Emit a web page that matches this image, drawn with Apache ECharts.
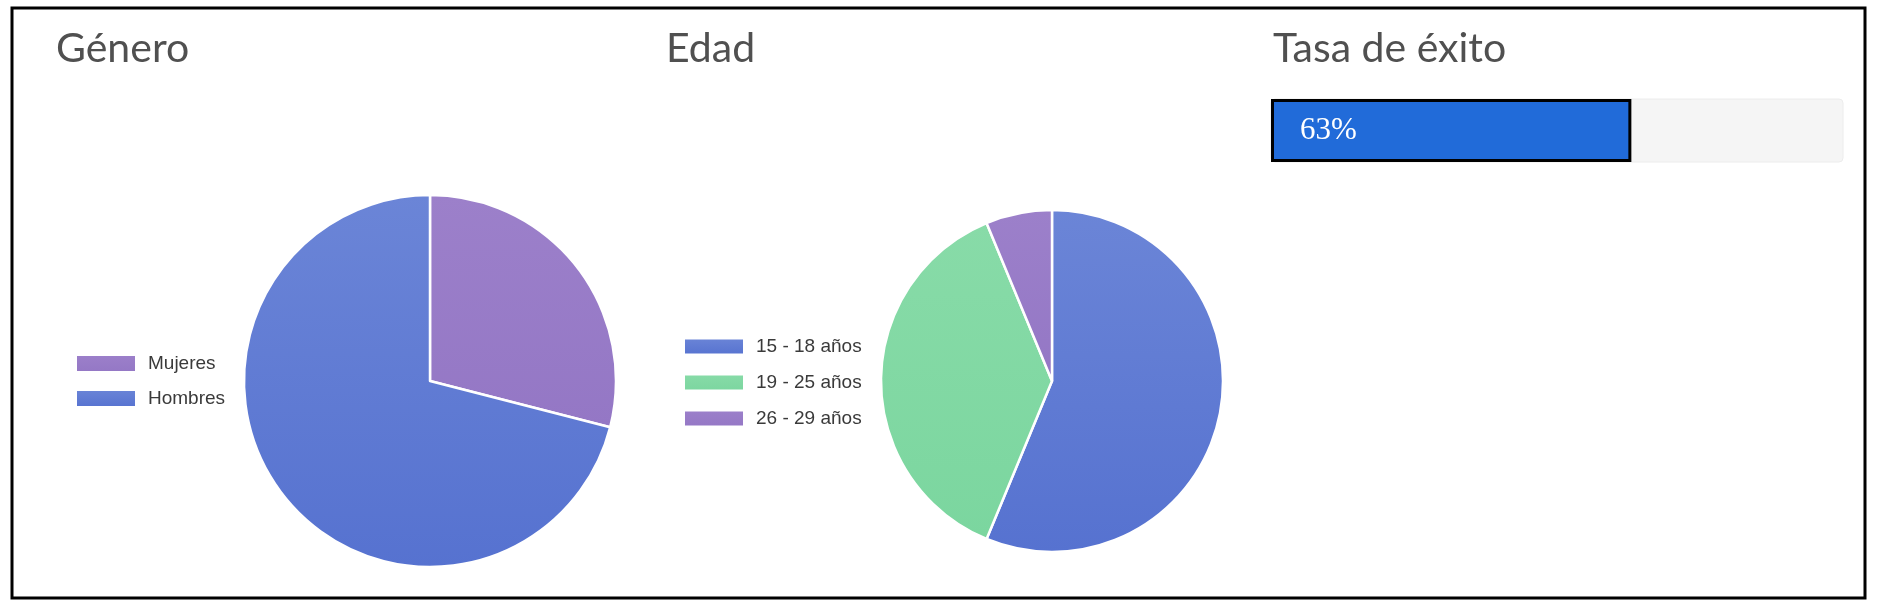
<!DOCTYPE html>
<html>
<head>
<meta charset="utf-8">
<script src="https://cdn.jsdelivr.net/npm/echarts@6/dist/echarts.min.js"></script>
<style>
html,body{margin:0;padding:0;background:#fff;}
#chart{width:1878px;height:604px;}
</style>
</head>
<body>
<div id="chart"></div>
<script>
// ---- data ----
const panelTitles = ['Género', 'Edad', 'Tasa de éxito'];
const genderCategories = ['Mujeres', 'Hombres'];
const genderValues = [29, 71];
const ageCategories = ['15 - 18 años', '19 - 25 años', '26 - 29 años'];
const ageValues = [9, 6, 1];
const successCategory = ['Tasa de éxito'];
const successValues = [63];

// ---- styles ----
function grad(top, bottom) {
  return new echarts.graphic.LinearGradient(0, 0, 0, 1, [
    {offset: 0, color: top}, {offset: 1, color: bottom}
  ]);
}
const BLUE = grad('#6b85d7', '#5672d0');
const PURPLE = grad('#9c80ca', '#9477c5');
const GREEN = grad('#88dba8', '#7bd69f');
const genderColors = [PURPLE, BLUE];
const ageColors = [BLUE, GREEN, PURPLE];

const chart = echarts.init(document.getElementById('chart'), null, {renderer: 'canvas'});

const titleStyle = {fontFamily: 'Lato', fontSize: 41, fontWeight: 'normal', color: '#505050'};
const legendText = {fontFamily: 'Liberation Sans, Arial, sans-serif', fontSize: 19, color: '#3a3a3a', padding: [0, 0, 0, 7]};

chart.setOption({
  animation: false,
  title: [
    {text: panelTitles[0], left: 56, top: 28, padding: 0, textStyle: titleStyle},
    {text: panelTitles[1], left: 666, top: 28, padding: 0, textStyle: titleStyle},
    {text: panelTitles[2], left: 1273, top: 28, padding: 0, textStyle: titleStyle}
  ],
  legend: [
    {
      data: genderCategories, orient: 'vertical', left: 75, top: 354, padding: 0,
      icon: 'rect', itemWidth: 60, itemHeight: 17, itemGap: 16,
      textStyle: legendText, selectedMode: false
    },
    {
      data: ageCategories, orient: 'vertical', left: 683, top: 337, padding: 0,
      icon: 'rect', itemWidth: 60, itemHeight: 16, itemGap: 17,
      textStyle: legendText, selectedMode: false
    }
  ],
  grid: {left: 1271, top: 98, width: 572, height: 65},
  xAxis: {type: 'value', min: 0, max: 100, show: false},
  yAxis: {type: 'category', data: successCategory, show: false},
  series: [
    {
      type: 'pie', name: 'Género', center: [430, 381], radius: 186,
      startAngle: 90, clockwise: true, label: {show: false}, labelLine: {show: false},
      itemStyle: {borderColor: '#fff', borderWidth: 2.5},
      emphasis: {disabled: true},
      data: genderCategories.map((c, i) => ({name: c, value: genderValues[i], itemStyle: {color: genderColors[i]}}))
    },
    {
      type: 'pie', name: 'Edad', center: [1052, 381], radius: 171,
      startAngle: 90, clockwise: true, label: {show: false}, labelLine: {show: false},
      itemStyle: {borderColor: '#fff', borderWidth: 2.5},
      emphasis: {disabled: true},
      data: ageCategories.map((c, i) => ({name: c, value: ageValues[i], itemStyle: {color: ageColors[i]}}))
    },
    {
      type: 'bar', data: successValues, barWidth: 63,
      showBackground: true,
      backgroundStyle: {color: '#f5f5f5', borderColor: '#ececec', borderWidth: 1, borderRadius: 4},
      itemStyle: {color: '#216bd9', borderColor: '#000', borderWidth: 3},
      label: {
        show: true, position: 'insideLeft', distance: 29,
        formatter: p => p.value + '%',
        fontFamily: 'Liberation Serif, Times New Roman, serif', fontSize: 31, color: '#fff'
      }
    }
  ],
  graphic: [
    {type: 'rect', shape: {x: 12, y: 8, width: 1853, height: 590}, style: {fill: null, stroke: '#000', lineWidth: 3}, silent: true}
  ]
});
</script>
</body>
</html>
